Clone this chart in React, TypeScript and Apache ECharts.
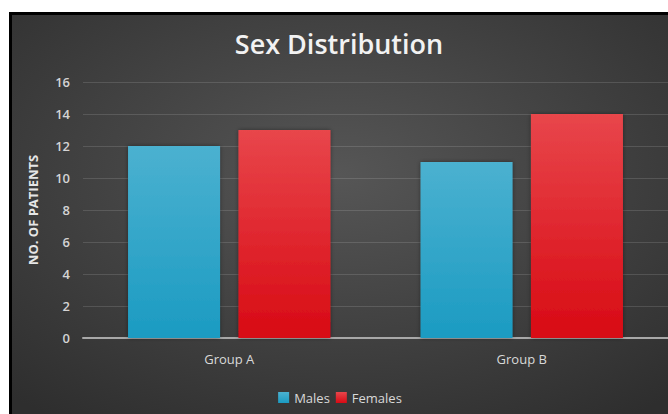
import React, { useEffect, useRef } from "react";
import * as echarts from "echarts";

const categories = ["Group A", "Group B"];
const males = [12, 11];
const females = [13, 14];
const seriesNames = ["Males", "Females"];
const titleText = "Sex Distribution";
const yAxisName = "NO. OF PATIENTS";

export default function App() {
  const ref = useRef<HTMLDivElement>(null);
  useEffect(() => {
    if (!ref.current) return;
    const chart = echarts.init(ref.current, null, { renderer: "svg" });
    const font = "'Open Sans', 'Noto Sans', sans-serif";
    chart.setOption({
      animation: false,
      backgroundColor: new echarts.graphic.RadialGradient(0.5, 0.4, 0.75, [
        { offset: 0, color: "#565656" },
        { offset: 1, color: "#2e2e2e" },
      ]),
      title: {
        text: titleText,
        left: 322,
        top: 10,
        textAlign: "center",
        textStyle: { color: "#f2f2f2", fontSize: 27, fontWeight: 600, fontFamily: font },
      },
      legend: {
        data: seriesNames,
        bottom: 5,
        left: "center",
        itemWidth: 11,
        itemHeight: 11,
        itemGap: 6,
        icon: "rect",
        textStyle: { color: "#d9d9d9", fontSize: 13, fontFamily: font },
      },
      grid: { left: 71, right: 0, top: 67, bottom: 76 },
      xAxis: {
        type: "category",
        data: categories,
        axisLine: { lineStyle: { color: "#a8a8a8", width: 2 } },
        axisTick: { show: false },
        axisLabel: { color: "#d9d9d9", fontSize: 13, margin: 14, fontFamily: font },
      },
      yAxis: {
        type: "value",
        min: 0,
        max: 16,
        interval: 2,
        name: yAxisName,
        nameLocation: "middle",
        nameRotate: 90,
        nameGap: 44,
        nameTextStyle: { color: "#e6e6e6", fontSize: 13, fontWeight: "bold", fontFamily: font },
        axisLine: { show: false },
        axisTick: { show: false },
        axisLabel: { color: "#d4d4d4", fontSize: 13, fontWeight: 600, margin: 13, fontFamily: font },
        splitLine: { lineStyle: { color: "rgba(255,255,255,0.13)", width: 1 } },
      },
      series: [
        {
          name: seriesNames[0],
          type: "bar",
          data: males,
          barWidth: 92,
          barGap: "20%",
          itemStyle: {
            color: new echarts.graphic.LinearGradient(0, 0, 0, 1, [
              { offset: 0, color: "#4bb1d0" },
              { offset: 1, color: "#1b9bc2" },
            ]),
            shadowColor: "rgba(0,0,0,0.4)",
            shadowBlur: 4,
          },
        },
        {
          name: seriesNames[1],
          type: "bar",
          data: females,
          barWidth: 92,
          barGap: "20%",
          itemStyle: {
            color: new echarts.graphic.LinearGradient(0, 0, 0, 1, [
              { offset: 0, color: "#e8464b" },
              { offset: 1, color: "#d80a14" },
            ]),
            shadowColor: "rgba(0,0,0,0.4)",
            shadowBlur: 4,
          },
        },
      ],
    });
    return () => chart.dispose();
  }, []);
  return (
    <div
      style={{
        position: "absolute",
        left: 9,
        top: 12,
        width: 659,
        height: 402,
        borderLeft: "3px solid #000",
        borderTop: "3px solid #000",
        boxSizing: "border-box",
        overflow: "hidden",
      }}
    >
      <div ref={ref} style={{ width: 656, height: 399 }} />
    </div>
  );
}
